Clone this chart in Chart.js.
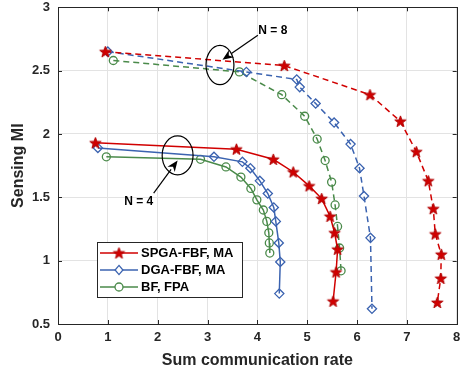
<!DOCTYPE html>
<html>
<head>
<meta charset="utf-8">
<script src="https://cdn.jsdelivr.net/npm/chart.js@4/dist/chart.umd.min.js"></script>
<style>
html,body{margin:0;padding:0;background:#fff;}
#wrap{width:464px;height:376px;position:relative;}
</style>
</head>
<body>
<div id="wrap"><canvas id="c" width="464" height="376"></canvas></div>
<script>
// ---- data ----
const seriesLabels = ['SPGA-FBF, MA', 'DGA-FBF, MA', 'BF, FPA'];
const xTicks = [0, 1, 2, 3, 4, 5, 6, 7, 8];
const yTicks = [0.5, 1, 1.5, 2, 2.5, 3];
const yTickLabels = ['0.5', '1', '1.5', '2', '2.5', '3'];

const spgaN4X = [0.75, 3.58, 4.32, 4.72, 5.04, 5.29, 5.46, 5.55, 5.61, 5.58, 5.52];
const spgaN4Y = [1.93, 1.88, 1.80, 1.70, 1.59, 1.49, 1.35, 1.22, 1.09, 0.91, 0.68];
const dgaN4X  = [0.80, 3.13, 3.70, 3.86, 4.05, 4.21, 4.33, 4.37, 4.43, 4.46, 4.44];
const dgaN4Y  = [1.89, 1.82, 1.78, 1.73, 1.63, 1.53, 1.42, 1.31, 1.14, 0.99, 0.74];
const bfN4X   = [0.97, 2.86, 3.37, 3.67, 3.87, 3.99, 4.12, 4.19, 4.23, 4.24, 4.25];
const bfN4Y   = [1.82, 1.80, 1.74, 1.66, 1.57, 1.48, 1.40, 1.31, 1.22, 1.14, 1.06];

const spgaN8X = [0.95, 4.54, 6.26, 6.87, 7.19, 7.43, 7.53, 7.57, 7.69, 7.68, 7.61];
const spgaN8Y = [2.65, 2.54, 2.31, 2.10, 1.86, 1.63, 1.41, 1.21, 1.05, 0.86, 0.67];
const dgaN8X  = [1.00, 3.78, 4.79, 4.85, 5.17, 5.54, 5.87, 6.05, 6.14, 6.27, 6.30];
const dgaN8Y  = [2.65, 2.49, 2.43, 2.37, 2.24, 2.09, 1.92, 1.73, 1.51, 1.18, 0.62];
const bfN8X   = [1.11, 3.64, 4.49, 4.95, 5.20, 5.36, 5.49, 5.56, 5.61, 5.65, 5.68];
const bfN8Y   = [2.58, 2.49, 2.31, 2.14, 1.96, 1.79, 1.62, 1.44, 1.27, 1.10, 0.92];

// annotation text labels
const annoLabels = ['N = 8', 'N = 4'];

// ---- styles ----
const RED = '#d10000', BLUE = '#3b63b0', GREEN = '#4a8a4a', DARK = '#262626';

function makeStar(r, fill, stroke) {
  const s = Math.ceil(r * 2 + 3);
  const c = document.createElement('canvas');
  c.width = s; c.height = s;
  const g = c.getContext('2d');
  const cx = s / 2, cy = s / 2 + 0.5;
  g.beginPath();
  for (let i = 0; i < 10; i++) {
    const rad = i % 2 === 0 ? r : r * 0.4;
    const a = -Math.PI / 2 + i * Math.PI / 5;
    const px = cx + rad * Math.cos(a), py = cy + rad * Math.sin(a);
    if (i === 0) g.moveTo(px, py); else g.lineTo(px, py);
  }
  g.closePath();
  g.fillStyle = fill; g.fill();
  g.strokeStyle = stroke; g.lineWidth = 1; g.stroke();
  return c;
}
const starImg = makeStar(6, RED, '#b00000');

function pts(xs, ys) { return xs.map((x, i) => ({x: x, y: ys[i]})); }

function ds(label, xs, ys, color, style, dashed) {
  const o = {
    label: label,
    data: pts(xs, ys),
    showLine: true,
    borderColor: color,
    borderWidth: 1.5,
    borderDash: dashed ? [6, 4] : [],
    tension: 0,
    fill: false,
    pointBorderColor: color,
    pointBackgroundColor: 'rgba(255,255,255,0)',
    pointBorderWidth: 1.3,
  };
  if (style === 'star') { o.pointStyle = starImg; o.pointRadius = 6; }
  else if (style === 'diamond') { o.pointStyle = 'rectRot'; o.pointRadius = 4.6; }
  else { o.pointStyle = 'circle'; o.pointRadius = 4; }
  o.mstyle = style;
  return o;
}

const datasets = [
  ds(seriesLabels[0], spgaN4X, spgaN4Y, RED, 'star', false),
  ds(seriesLabels[1], dgaN4X, dgaN4Y, BLUE, 'diamond', false),
  ds(seriesLabels[2], bfN4X, bfN4Y, GREEN, 'circle', false),
  ds('', spgaN8X, spgaN8Y, RED, 'star', true),
  ds('', dgaN8X, dgaN8Y, BLUE, 'diamond', true),
  ds('', bfN8X, bfN8Y, GREEN, 'circle', true),
];

function drawMarker(ctx, style, color, x, y) {
  ctx.save();
  ctx.setLineDash([]);
  if (style === 'star') {
    ctx.drawImage(starImg, x - starImg.width / 2, y - starImg.height / 2);
  } else if (style === 'diamond') {
    const r = 4.6;
    ctx.beginPath();
    ctx.moveTo(x, y - r); ctx.lineTo(x + r * 0.85, y); ctx.lineTo(x, y + r); ctx.lineTo(x - r * 0.85, y); ctx.closePath();
    ctx.fillStyle = '#fff'; ctx.fill();
    ctx.strokeStyle = color; ctx.lineWidth = 1.3; ctx.stroke();
  } else {
    ctx.beginPath(); ctx.arc(x, y, 4, 0, Math.PI * 2);
    ctx.fillStyle = '#fff'; ctx.fill();
    ctx.strokeStyle = color; ctx.lineWidth = 1.3; ctx.stroke();
  }
  ctx.restore();
}

// frame + inside ticks
const framePlugin = {
  id: 'frame',
  afterDraw(chart) {
    const {ctx, chartArea: a, scales} = chart;
    ctx.save();
    ctx.strokeStyle = DARK; ctx.lineWidth = 1;
    ctx.beginPath();
    const L = 4;
    xTicks.forEach(v => {
      const px = Math.round(scales.x.getPixelForValue(v)) + 0.5;
      ctx.moveTo(px, a.bottom); ctx.lineTo(px, a.bottom - L);
      ctx.moveTo(px, a.top); ctx.lineTo(px, a.top + L);
    });
    yTicks.forEach(v => {
      const py = Math.round(scales.y.getPixelForValue(v)) + 0.5;
      ctx.moveTo(a.left, py); ctx.lineTo(a.left + L, py);
      ctx.moveTo(a.right, py); ctx.lineTo(a.right - L, py);
    });
    ctx.stroke();
    ctx.strokeRect(Math.round(a.left) + 0.5, Math.round(a.top) + 0.5, Math.round(a.right - a.left), Math.round(a.bottom - a.top));
    ctx.restore();
  }
};

function arrow(ctx, x1, y1, x2, y2) {
  const ang = Math.atan2(y2 - y1, x2 - x1);
  const hl = 11, hw = 4.5;
  const bx = x2 - hl * Math.cos(ang), by = y2 - hl * Math.sin(ang);
  ctx.beginPath(); ctx.moveTo(x1, y1); ctx.lineTo(bx, by); ctx.stroke();
  ctx.beginPath();
  ctx.moveTo(x2, y2);
  ctx.lineTo(bx + hw * Math.sin(ang), by - hw * Math.cos(ang));
  ctx.lineTo(x2 - hl * 0.7 * Math.cos(ang), y2 - hl * 0.7 * Math.sin(ang));
  ctx.lineTo(bx - hw * Math.sin(ang), by + hw * Math.cos(ang));
  ctx.closePath(); ctx.fill();
}

const annoPlugin = {
  id: 'anno',
  afterDatasetsDraw(chart) {
    const {ctx, scales: {x, y}} = chart;
    const X = v => x.getPixelForValue(v), Y = v => y.getPixelForValue(v);
    ctx.save();
    ctx.strokeStyle = '#000'; ctx.fillStyle = '#000'; ctx.lineWidth = 1.2;
    // N = 8
    ctx.beginPath();
    ctx.ellipse(X(3.25), Y(2.545), Math.abs(X(3.53) - X(3.25)), Math.abs(Y(2.545) - Y(2.70)), 0, 0, Math.PI * 2);
    ctx.stroke();
    arrow(ctx, X(4.01), Y(2.78), X(3.30), Y(2.585));
    // N = 4
    ctx.beginPath();
    ctx.ellipse(X(2.40), Y(1.831), Math.abs(X(2.71) - X(2.40)), Math.abs(Y(1.831) - Y(1.985)), 0, 0, Math.PI * 2);
    ctx.stroke();
    arrow(ctx, X(1.92), Y(1.533), X(2.40), Y(1.79));
    ctx.font = 'bold 12px "Liberation Sans", Arial, sans-serif';
    ctx.textAlign = 'center'; ctx.textBaseline = 'middle';
    ctx.fillText(annoLabels[0], X(4.31), Y(2.815));
    ctx.fillText(annoLabels[1], X(1.62), Y(1.465));
    ctx.restore();
  }
};

const legendPlugin = {
  id: 'mlegend',
  afterDraw(chart) {
    const {ctx, chartArea: a} = chart;
    const bx = a.left + 39, by = a.bottom - 82, bw = 145, bh = 55;
    ctx.save();
    ctx.fillStyle = '#fff';
    ctx.fillRect(bx, by, bw, bh);
    ctx.strokeStyle = DARK; ctx.lineWidth = 1;
    ctx.strokeRect(Math.round(bx) + 0.5, Math.round(by) + 0.5, bw, bh);
    ctx.font = 'bold 13px "Liberation Sans", Arial, sans-serif';
    ctx.textBaseline = 'middle'; ctx.textAlign = 'left';
    for (let i = 0; i < 3; i++) {
      const d = chart.data.datasets[i];
      const ry = by + 11 + i * 17;
      ctx.strokeStyle = d.borderColor; ctx.lineWidth = 1.5; ctx.setLineDash([]);
      ctx.beginPath(); ctx.moveTo(bx + 3, ry); ctx.lineTo(bx + 41, ry); ctx.stroke();
      drawMarker(ctx, d.mstyle, d.borderColor, bx + 22, ry);
      ctx.fillStyle = '#000';
      ctx.fillText(d.label, bx + 44, ry + 0.5);
    }
    ctx.restore();
  }
};

const tickFont = {family: '"Liberation Sans", Arial, sans-serif', size: 13, weight: 'bold'};
const titleFont = {family: '"Liberation Sans", Arial, sans-serif', size: 16, weight: 'bold'};

new Chart(document.getElementById('c'), {
  type: 'scatter',
  data: {datasets: datasets},
  options: {
    responsive: false,
    animation: false,
    layout: {padding: {top: 7, right: -3, left: 0, bottom: 0}},
    plugins: {legend: {display: false}, tooltip: {enabled: false}},
    scales: {
      x: {
        type: 'linear', min: 0, max: 8,
        afterBuildTicks: s => { s.ticks = xTicks.map(v => ({value: v})); },
        ticks: {font: tickFont, color: DARK, padding: 6, callback: v => String(v)},
        grid: {color: '#e3e3e3', drawTicks: false, lineWidth: 1},
        border: {display: true, color: DARK},
        title: {display: true, text: 'Sum communication rate', font: titleFont, color: DARK, padding: {top: 2, bottom: 6}},
        afterFit: s => { s.height = 52; s.paddingRight = 0; s.paddingLeft = 0; }
      },
      y: {
        type: 'linear', min: 0.5, max: 3,
        afterBuildTicks: s => { s.ticks = yTicks.map(v => ({value: v})); },
        ticks: {font: tickFont, color: DARK, padding: 8, callback: (v, i) => yTickLabels[i]},
        grid: {color: '#e3e3e3', drawTicks: false, lineWidth: 1},
        border: {display: true, color: DARK},
        title: {display: true, text: 'Sensing MI', font: titleFont, color: DARK, padding: {top: 9, bottom: 0}},
        afterFit: s => { s.width = 58; s.paddingTop = 0; s.paddingBottom = 0; }
      }
    }
  },
  plugins: [annoPlugin, framePlugin, legendPlugin]
});
</script>
</body>
</html>
